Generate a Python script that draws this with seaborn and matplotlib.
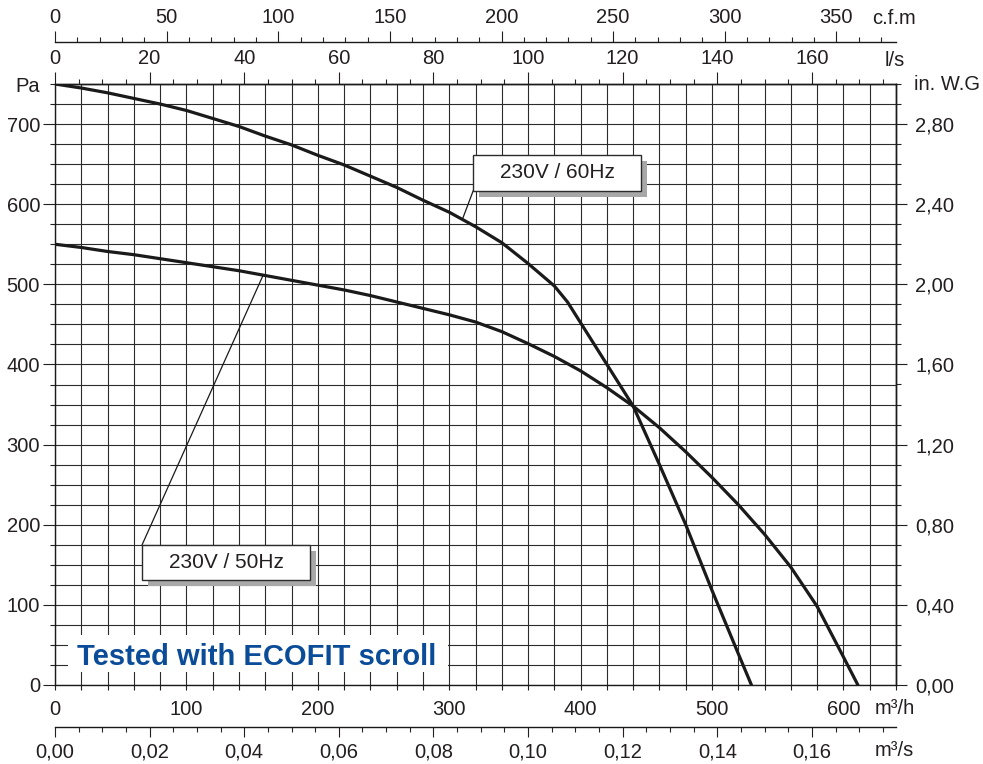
import numpy as np
import pandas as pd
import matplotlib
matplotlib.use("Agg")
import matplotlib.pyplot as plt
import seaborn as sns
from matplotlib.patches import Rectangle
from matplotlib.ticker import MultipleLocator, FixedLocator, FuncFormatter

# ---------------- data ----------------
flow_60 = [0, 20, 40, 60, 80, 100, 120, 140, 160, 180, 200, 220, 240, 260, 280,
           300, 320, 340, 360, 380, 390, 400, 420, 440, 460, 480, 500, 520, 530]
pres_60 = [750, 745, 739, 732, 725, 717, 707, 697, 685, 674, 661, 649, 635, 621, 605,
           590, 572, 552, 526, 498, 478, 452, 400, 348, 275, 200, 118, 39, 0]

flow_50 = [0, 20, 40, 60, 80, 100, 120, 140, 160, 180, 200, 220, 240, 260, 280,
           300, 320, 340, 360, 380, 400, 420, 440, 460, 480, 500, 520, 540, 560, 580, 600, 611]
pres_50 = [550, 546, 541, 537, 532, 527, 522, 517, 511, 505, 499, 493, 486, 478, 470,
           462, 453, 441, 426, 410, 392, 371, 348, 321, 291, 259, 225, 188, 147, 98, 35, 0]

curve_names = ["230V / 60Hz", "230V / 50Hz"]

m3h_ticks = [0, 100, 200, 300, 400, 500, 600]
pa_ticks = [0, 100, 200, 300, 400, 500, 600, 700]
ls_ticks = [0, 20, 40, 60, 80, 100, 120, 140, 160]
cfm_ticks = [0, 50, 100, 150, 200, 250, 300, 350]
m3s_ticks = [0.00, 0.02, 0.04, 0.06, 0.08, 0.10, 0.12, 0.14, 0.16]
inwg_ticks = [0.0, 0.4, 0.8, 1.2, 1.6, 2.0, 2.4, 2.8]

# ---------------- style ----------------
sns.set_style("white")
plt.rcParams["font.family"] = ["Liberation Sans", "DejaVu Sans"]
TXT = "#231f20"
plt.rcParams["text.color"] = TXT

W, H = 983, 764
fig = plt.figure(figsize=(W / 100, H / 100), dpi=100)
ax = fig.add_axes([55 / W, (H - 685) / H, (896 - 55) / W, (685 - 84) / H])

df = pd.concat([
    pd.DataFrame({"flow": flow_60, "pressure": pres_60, "curve": curve_names[0]}),
    pd.DataFrame({"flow": flow_50, "pressure": pres_50, "curve": curve_names[1]}),
])
sns.lineplot(data=df, x="flow", y="pressure", hue="curve",
             palette={curve_names[0]: "#1a1a1a", curve_names[1]: "#1a1a1a"},
             estimator=None, sort=False, legend=False, lw=2.3, ax=ax, zorder=3)
for ln in ax.lines:
    ln.set_solid_joinstyle("round")

ax.set_xlim(0, 640)
ax.set_ylim(0, 750)
ax.set_xlabel("")
ax.set_ylabel("")
ax.set_axisbelow(True)

ax.xaxis.set_major_locator(FixedLocator(m3h_ticks))
ax.xaxis.set_minor_locator(MultipleLocator(20))
ax.yaxis.set_major_locator(FixedLocator(pa_ticks))
ax.yaxis.set_minor_locator(MultipleLocator(25))
ax.yaxis.set_minor_formatter(FuncFormatter(lambda v, p: "Pa" if abs(v - 750) < 1e-6 else ""))
ax.grid(True, which="both", color="#2b2b2b", lw=0.8)

for s in ax.spines.values():
    s.set_color("#1a1a1a")
    s.set_linewidth(1.0)

ax.tick_params(axis="x", which="both", direction="out", length=3.6, width=0.8,
               pad=7.5, labelsize=14.5, colors=TXT, bottom=True, top=False)
ax.tick_params(axis="y", which="major", direction="out", length=8.6, width=0.8,
               pad=2.2, labelsize=14.5, colors=TXT, left=True, right=False)
ax.tick_params(axis="y", which="minor", direction="out", length=3.6, width=0.8,
               pad=7.2, labelsize=14.5, colors=TXT, left=True, right=False)

# ---------------- secondary axes ----------------
sec_ls = ax.secondary_xaxis("top", functions=(lambda q: q / 3.6, lambda l: l * 3.6))
sec_ls.xaxis.set_major_locator(FixedLocator(ls_ticks))
sec_ls.xaxis.set_minor_locator(MultipleLocator(5))
sec_ls.tick_params(which="major", direction="out", length=8.6, width=0.8, pad=3,
                   labelsize=14.5, colors=TXT)
sec_ls.tick_params(which="minor", direction="out", length=3.6, width=0.8)

cfm_loc = (685 - 42) / (685 - 84)
sec_cfm = ax.secondary_xaxis(cfm_loc, functions=(lambda q: q / 1.699, lambda c: c * 1.699))
sec_cfm.xaxis.set_major_locator(FixedLocator(cfm_ticks))
sec_cfm.xaxis.set_minor_locator(MultipleLocator(10))
sec_cfm.tick_params(which="major", direction="out", length=8.0, width=0.8, pad=3,
                    labelsize=14.5, colors=TXT)
sec_cfm.tick_params(which="minor", direction="out", length=3.6, width=0.8)

m3s_loc = (685 - 727) / (685 - 84)
sec_m3s = ax.secondary_xaxis(m3s_loc, functions=(lambda q: q / 3600, lambda s: s * 3600))
sec_m3s.xaxis.set_major_locator(FixedLocator(m3s_ticks))
sec_m3s.xaxis.set_minor_locator(MultipleLocator(0.005))
sec_m3s.xaxis.set_major_formatter(FuncFormatter(lambda v, p: f"{v:.2f}".replace(".", ",")))
sec_m3s.tick_params(which="major", direction="out", length=7.2, width=0.8, pad=4.3,
                    labelsize=14.5, colors=TXT)
sec_m3s.tick_params(which="minor", direction="out", length=3.6, width=0.8)

sec_in = ax.secondary_yaxis("right", functions=(lambda p: p / 250, lambda i: i * 250))
sec_in.yaxis.set_major_locator(FixedLocator(inwg_ticks))
sec_in.yaxis.set_minor_locator(MultipleLocator(0.1))
sec_in.yaxis.set_major_formatter(FuncFormatter(lambda v, p: f"{v:.2f}".replace(".", ",")))
sec_in.tick_params(which="major", direction="out", length=8.0, width=0.8, pad=5.8,
                   labelsize=14.5, colors=TXT)
sec_in.tick_params(which="minor", direction="out", length=3.6, width=0.8)

for sec in (sec_ls, sec_cfm, sec_m3s, sec_in):
    for s in sec.spines.values():
        s.set_color("#1a1a1a")
        s.set_linewidth(1.0)

# ---------------- unit labels ----------------
unit_kw = dict(fontsize=14.5, color=TXT, ha="left", va="center")
fig.text(872 / W, 1 - 19 / H, "c.f.m", **unit_kw)
fig.text(885 / W, 1 - 60 / H, "l/s", **unit_kw)
fig.text(875 / W, 1 - 708 / H, "m³/h", **unit_kw)
fig.text(875 / W, 1 - 750 / H, "m³/s", **unit_kw)
fig.text(914 / W, 1 - 84 / H, "in. W.G", **unit_kw)

# ---------------- curve labels with shadowed boxes ----------------
sx, sy = 4.6, 7.5  # shadow offset in data units


def label_box(x0, x1, y0, y1, text, lead_flow, flows, press, lead_end):
    ax.add_patch(Rectangle((x0 + sx, y0 - sy), x1 - x0, y1 - y0, fc="#a8a8a8",
                           ec="none", zorder=4))
    ax.add_patch(Rectangle((x0, y0), x1 - x0, y1 - y0, fc="white", ec="#2b2b2b",
                           lw=1.0, zorder=5))
    ax.text((x0 + x1) / 2, (y0 + y1) / 2, text, fontsize=15, color=TXT,
            ha="center", va="center", zorder=6)
    lead_p = np.interp(lead_flow, flows, press)
    ax.plot([lead_flow, lead_end[0]], [lead_p, lead_end[1]], color="#1a1a1a",
            lw=0.9, zorder=4)


label_box(318.3, 446.2, 616.5, 661.4, curve_names[0], 310, flow_60, pres_60, (318.3, 617))
label_box(66.2, 194.2, 131.0, 174.7, curve_names[1], 158.4, flow_50, pres_50, (66.2, 174.7))

# ---------------- "Tested with ECOFIT scroll" ----------------
ax.add_patch(Rectangle((9.9, 16.2), 289.3, 46.2, fc="white", ec="none", zorder=1))
ax.text(16.8, 25, "Tested with ECOFIT scroll", fontsize=21, fontweight="bold",
        color="#0b4c99", va="baseline", ha="left", zorder=6)

fig.savefig("out.png", dpi=100)
